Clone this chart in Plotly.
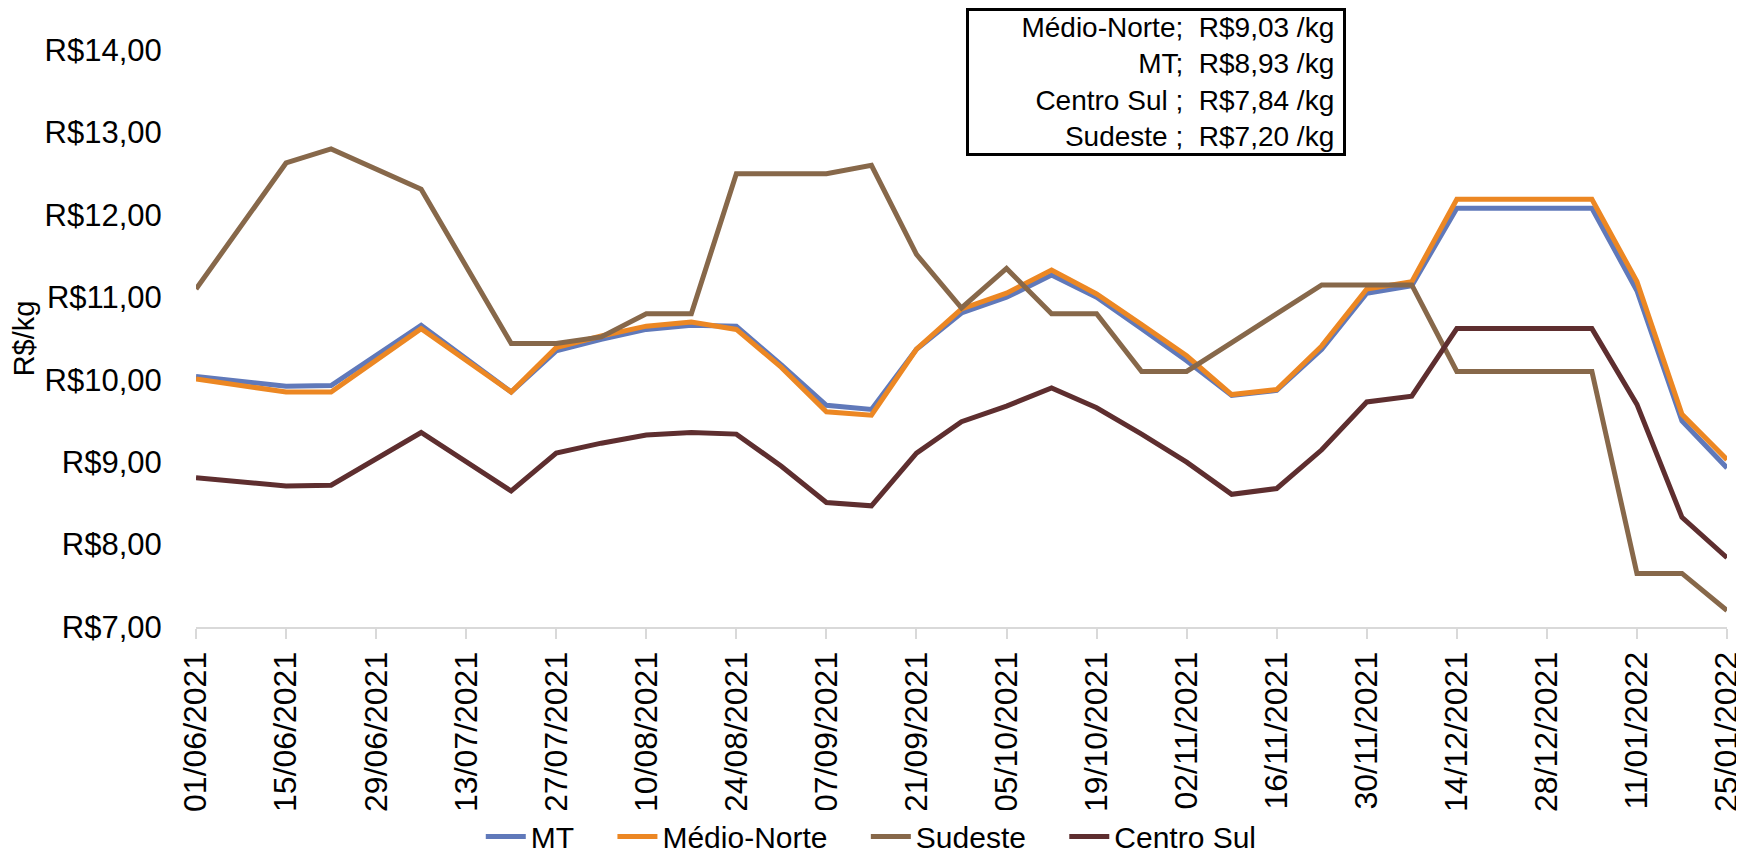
import plotly.graph_objects as go

dates = ["2021-06-01", "2021-06-15", "2021-06-22", "2021-07-06", "2021-07-20", "2021-07-27",
         "2021-08-03", "2021-08-10", "2021-08-17", "2021-08-24", "2021-08-31", "2021-09-07",
         "2021-09-14", "2021-09-21", "2021-09-28", "2021-10-05", "2021-10-12", "2021-10-19",
         "2021-10-26", "2021-11-02", "2021-11-09", "2021-11-16", "2021-11-23", "2021-11-30",
         "2021-12-07", "2021-12-14", "2021-12-21", "2021-12-28", "2022-01-04", "2022-01-11",
         "2022-01-18", "2022-01-25"]

mt = [10.04, 9.92, 9.93, 10.66, 9.85, 10.35, 10.49, 10.61, 10.66, 10.65, 10.18, 9.69,
      9.64, 10.37, 10.81, 11.00, 11.27, 11.00, 10.62, 10.23, 9.81, 9.87, 10.37, 11.05,
      11.14, 12.08, 12.08, 12.08, 12.08, 11.08, 9.50, 8.93]
medio_norte = [10.01, 9.85, 9.85, 10.62, 9.85, 10.39, 10.53, 10.65, 10.70, 10.61, 10.15, 9.61,
               9.57, 10.37, 10.86, 11.05, 11.33, 11.04, 10.67, 10.29, 9.82, 9.88, 10.41, 11.10,
               11.19, 12.19, 12.19, 12.19, 12.19, 11.19, 9.58, 9.03]
sudeste = [11.10, 12.63, 12.80, 12.31, 10.44, 10.44, 10.52, 10.80, 10.80, 12.50, 12.50, 12.50,
           12.60, 11.52, 10.87, 11.35, 10.80, 10.80, 10.10, 10.10, 10.45, 10.80, 11.15, 11.15,
           11.15, 10.10, 10.10, 10.10, 10.10, 7.65, 7.65, 7.20]
centro_sul = [8.81, 8.71, 8.72, 9.36, 8.65, 9.11, 9.23, 9.33, 9.36, 9.34, 8.95, 8.51,
              8.47, 9.11, 9.49, 9.68, 9.90, 9.66, 9.34, 9.00, 8.61, 8.68, 9.15, 9.73,
              9.80, 10.62, 10.62, 10.62, 10.62, 9.70, 8.33, 7.84]

x_ticks = ["2021-06-01", "2021-06-15", "2021-06-29", "2021-07-13", "2021-07-27", "2021-08-10",
           "2021-08-24", "2021-09-07", "2021-09-21", "2021-10-05", "2021-10-19", "2021-11-02",
           "2021-11-16", "2021-11-30", "2021-12-14", "2021-12-28", "2022-01-11", "2022-01-25"]
x_labels = ["01/06/2021", "15/06/2021", "29/06/2021", "13/07/2021", "27/07/2021", "10/08/2021",
            "24/08/2021", "07/09/2021", "21/09/2021", "05/10/2021", "19/10/2021", "02/11/2021",
            "16/11/2021", "30/11/2021", "14/12/2021", "28/12/2021", "11/01/2022", "25/01/2022"]
y_ticks = [7, 8, 9, 10, 11, 12, 13, 14]
y_labels = ["R$7,00", "R$8,00", "R$9,00", "R$10,00", "R$11,00", "R$12,00", "R$13,00", "R$14,00"]

box_lines = ["Médio-Norte;  R$9,03 /kg", "MT;  R$8,93 /kg",
             "Centro Sul ;  R$7,84 /kg", "Sudeste ;  R$7,20 /kg"]

FONT = "Liberation Sans, Arial, sans-serif"
NB = "\u00a0"

series = [("MT", mt, "#6079BA"), ("Médio-Norte", medio_norte, "#EC8723"),
          ("Sudeste", sudeste, "#87684A"), ("Centro Sul", centro_sul, "#5E2E2F")]

fig = go.Figure()
for i, (name, vals, color) in enumerate(series):
    label = name + (NB * 4 if i < len(series) - 1 else "")
    fig.add_trace(go.Scatter(x=dates, y=vals, mode="lines", name=label,
                             line=dict(color=color, width=5)))

fig.update_layout(
    width=1744, height=854,
    margin=dict(l=188, r=25, t=42, b=235),
    paper_bgcolor="white", plot_bgcolor="white",
    font=dict(family=FONT, size=28, color="black"),
    showlegend=True,
    legend=dict(orientation="h", xref="container", yref="container",
                x=0.495, xanchor="center", y=0.03, yanchor="middle",
                font=dict(size=30), itemwidth=40),
    xaxis=dict(type="date", range=["2021-06-01", "2022-01-25"],
               tickmode="array", tickvals=x_ticks, ticktext=x_labels,
               tickangle=-90, tickfont=dict(size=32), ticklabeloverflow="allow",
               ticks="outside", ticklen=10, tickwidth=2, tickcolor="#D9D9D9",
               showline=True, linecolor="#D9D9D9", linewidth=2,
               showgrid=False, zeroline=False, automargin=False),
    yaxis=dict(range=[7, 14], tickmode="array", tickvals=y_ticks, ticktext=y_labels,
               tickfont=dict(size=31), showgrid=False, zeroline=False, showline=False,
               ticks="outside", ticklen=27, tickcolor="rgba(0,0,0,0)",
               automargin=False,
               title=dict(text="R$/kg", font=dict(size=29), standoff=3)),
)

fig.add_annotation(
    xref="paper", yref="paper", x=0.627, y=0.945, xanchor="center", yanchor="middle",
    text="<br>".join(line + NB for line in box_lines), align="right", showarrow=False,
    font=dict(size=28, color="black"),
    width=372, bordercolor="black", borderwidth=3, borderpad=1,
    bgcolor="white",
)

fig.write_html("out.html")
